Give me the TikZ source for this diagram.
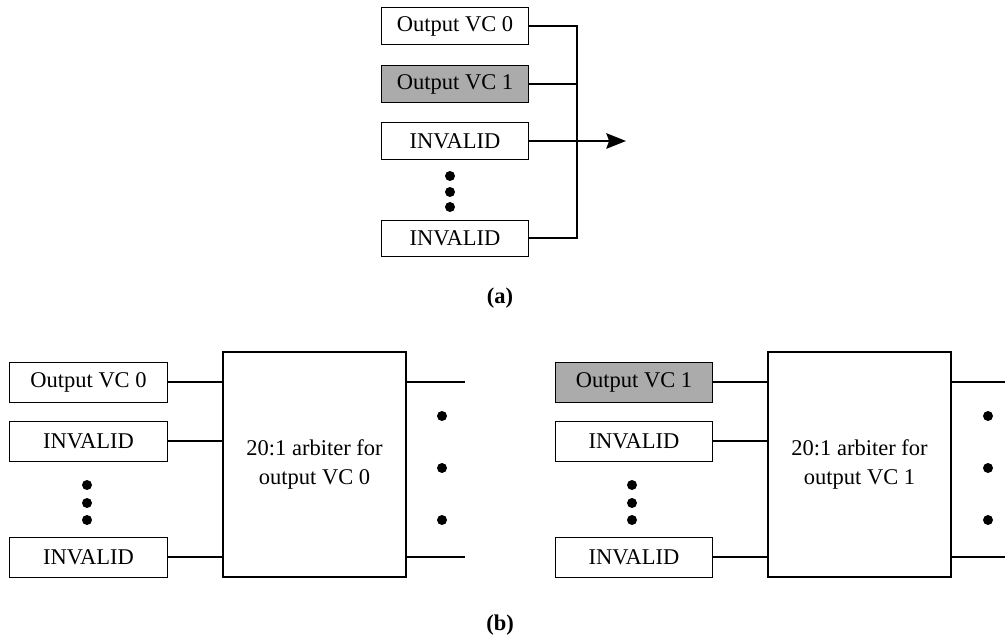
\documentclass[tikz,border=0pt]{standalone}
\usepackage{fontspec}
\setmainfont{Liberation Serif}
\usetikzlibrary{arrows.meta}

\begin{document}
\begin{tikzpicture}[x=0.025cm, y=-0.025cm,
        vcbox/.style={draw, rectangle, line width=0.7pt, minimum width=3.65cm, minimum height=0.9cm, inner sep=0pt, font=\fontsize{16}{19}\selectfont},
        vcgray/.style={vcbox, fill=black!33},
        vcwide/.style={minimum width=3.925cm, minimum height=1cm},
        arbiter/.style={draw, rectangle, line width=1pt, minimum width=4.575cm, minimum height=5.625cm, align=center, font=\fontsize{16}{20}\selectfont},
        wire/.style={line width=1.2pt},
        dot/.style={fill=black},
        >={Stealth[length=14pt, width=11pt, inset=2pt]}]
        \useasboundingbox (0,0) rectangle (1005,642);

        % (a) VC selection
        \node[vcbox] (aOut0) at (455,26) {Output VC 0};
        \node[vcgray] (aOut1) at (455,84) {Output VC 1};
        \node[vcbox] (aInv1) at (455,141) {INVALID};
        \node[vcbox] (aInv2) at (455,238) {INVALID};
        \foreach \y in {176,192,207}
            \fill[dot] (450,\y) circle (5);
        \coordinate (busEnd) at (577,238);
        \coordinate (outA) at (626,141);
        \draw[wire] (aOut0.east) -| (busEnd) -- (aInv2.east);
        \draw[wire] (aOut1.east) -- (aOut1.east -| busEnd);
        \draw[wire, ->] (aInv1.east) -- (aInv1.east -| outA);
        \node[font=\fontsize{16}{19}\selectfont\bfseries] (capA) at (500,298) {(a)};

        % (b) arbiter for output VC 0
        \node[vcbox, vcwide] (bOut0) at (88.5,382) {Output VC 0};
        \node[vcbox, vcwide] (bInv1) at (88.5,441) {INVALID};
        \node[vcbox, vcwide] (bInv2) at (88.5,557) {INVALID};
        \foreach \y in {485,503,520}
            \fill[dot] (87,\y) circle (5);
        \node[arbiter] (arbA) at (314.5,464.5) {20:1 arbiter for\\output VC 0};
        \draw[wire] (bOut0.east) -- (bOut0.east -| arbA.west);
        \draw[wire] (bInv1.east) -- (bInv1.east -| arbA.west);
        \draw[wire] (bInv2.east) -- (bInv2.east -| arbA.west);
        \coordinate (endA1) at (465,382);
        \coordinate (endA2) at (465,557);
        \draw[wire] (arbA.east |- endA1) -- (endA1);
        \draw[wire] (arbA.east |- endA2) -- (endA2);
        \foreach \y in {416,468,520}
            \fill[dot] (442,\y) circle (5);

        % (b) arbiter for output VC 1
        \node[vcgray, vcwide] (cOut1) at (634,382) {Output VC 1};
        \node[vcbox, vcwide] (cInv1) at (634,441) {INVALID};
        \node[vcbox, vcwide] (cInv2) at (634,557) {INVALID};
        \foreach \y in {485,503,520}
            \fill[dot] (632,\y) circle (5);
        \node[arbiter] (arbB) at (859.5,464.5) {20:1 arbiter for\\output VC 1};
        \draw[wire] (cOut1.east) -- (cOut1.east -| arbB.west);
        \draw[wire] (cInv1.east) -- (cInv1.east -| arbB.west);
        \draw[wire] (cInv2.east) -- (cInv2.east -| arbB.west);
        \coordinate (endB1) at (1005,382);
        \coordinate (endB2) at (1005,557);
        \draw[wire] (arbB.east |- endB1) -- (endB1);
        \draw[wire] (arbB.east |- endB2) -- (endB2);
        \foreach \y in {416,468,520}
            \fill[dot] (988,\y) circle (5);

        \node[font=\fontsize{16}{19}\selectfont\bfseries] (capB) at (500,625) {(b)};
    \end{tikzpicture}
\end{document}
